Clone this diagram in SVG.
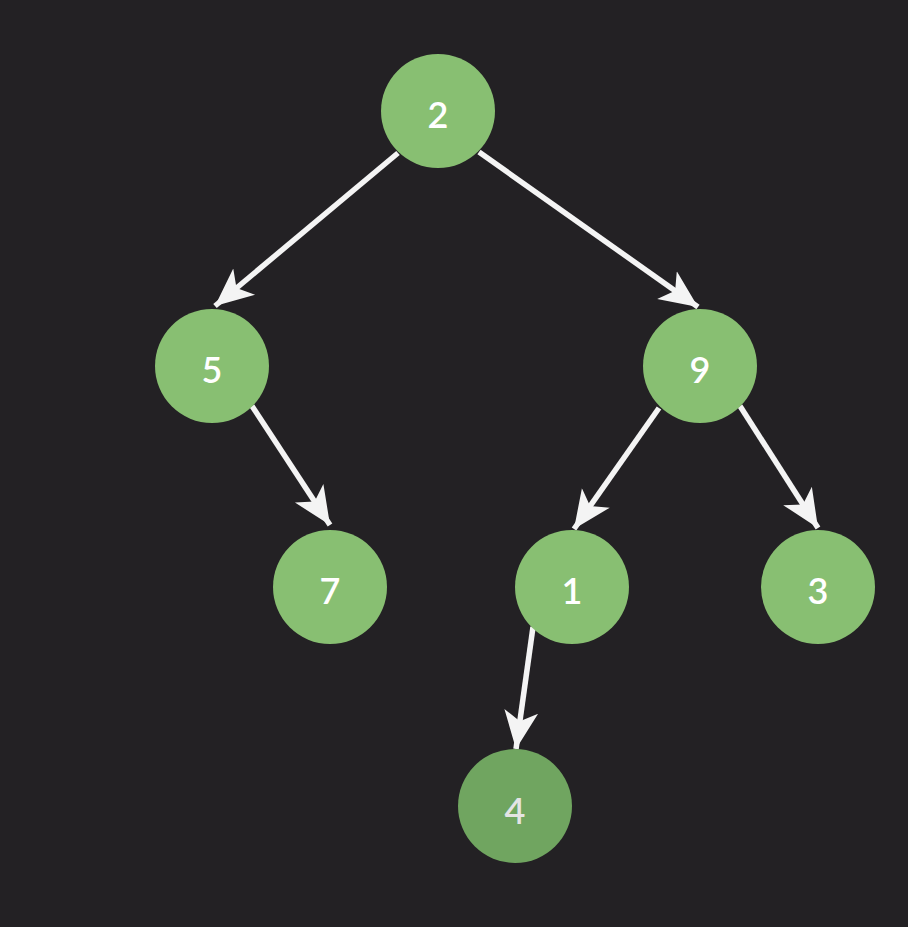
<svg xmlns="http://www.w3.org/2000/svg" width="908" height="927" viewBox="0 0 908 927">
  <style>
    .bg { fill: #232124; }
    .node circle { fill: #88bf72; }
    .node.dim circle { fill: #70a560; }
    .node text { fill: #ffffff; font-family: "Lato", "Open Sans", sans-serif; font-size: 36px; font-weight: 600; text-anchor: middle; dominant-baseline: central; }
    .node.dim text { fill: #e4e4e4; }
    .edge { stroke: #f4f4f4; stroke-width: 5.5; fill: none; marker-end: url(#head); }
  </style>
  <defs>
    <!-- notched arrowhead, sized in user units -->
    <marker id="head" markerUnits="userSpaceOnUse" viewBox="0 0 40 38" refX="38" refY="19" markerWidth="40" markerHeight="38" orient="auto">
      <path d="M0,2 L38,19 L0,36 L10,19 Z" fill="#f4f4f4"/>
    </marker>
  </defs>
  <rect class="bg" x="0" y="0" width="908" height="927"/>

  <g id="edges">
    <line class="edge" x1="398" y1="153" x2="215" y2="306"/>
    <line class="edge" x1="479" y1="152" x2="698" y2="307"/>
    <line class="edge" x1="252" y1="406" x2="330" y2="525"/>
    <line class="edge" x1="659" y1="408" x2="574" y2="529"/>
    <line class="edge" x1="740" y1="406" x2="818" y2="528"/>
    <line class="edge" x1="533" y1="627" x2="516" y2="749"/>
  </g>

  <g id="node-2" class="node"><circle cx="438" cy="111" r="57"/><text x="438" y="114">2</text></g>
  <g id="node-5" class="node"><circle cx="212" cy="366" r="57"/><text x="212" y="369">5</text></g>
  <g id="node-9" class="node"><circle cx="700" cy="366" r="57"/><text x="700" y="369">9</text></g>
  <g id="node-7" class="node"><circle cx="330" cy="587" r="57"/><text x="330" y="590">7</text></g>
  <g id="node-1" class="node"><circle cx="572" cy="587" r="57"/><text x="572" y="590">1</text></g>
  <g id="node-3" class="node"><circle cx="818" cy="587" r="57"/><text x="818" y="590">3</text></g>
  <g id="node-4" class="node dim"><circle cx="515" cy="806" r="57"/><text x="515" y="810">4</text></g>
</svg>
